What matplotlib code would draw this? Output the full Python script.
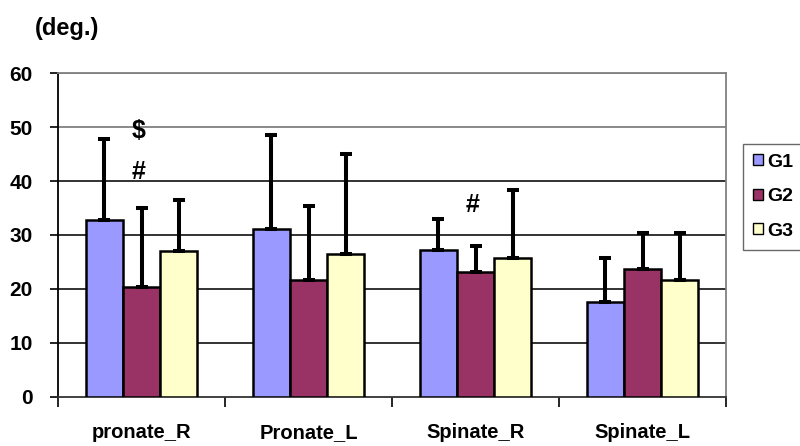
import matplotlib
matplotlib.use("Agg")
import matplotlib.pyplot as plt
import numpy as np

categories = ["pronate_R", "Pronate_L", "Spinate_R", "Spinate_L"]
groups = ["G1", "G2", "G3"]
g1_mean = [32.8, 31.1, 27.2, 17.5]
g1_sd = [15.0, 17.4, 5.8, 8.2]
g2_mean = [20.4, 21.7, 23.1, 23.7]
g2_sd = [14.6, 13.7, 4.8, 6.7]
g3_mean = [27.0, 26.4, 25.7, 21.6]
g3_sd = [9.5, 18.6, 12.6, 8.8]
colors = ["#9999FF", "#993366", "#FFFFCC"]
yticks = [0, 10, 20, 30, 40, 50, 60]
annotations = [("$", -0.02, 49.2), ("#", -0.02, 41.7), ("#", 1.98, 35.5)]

plt.rcParams['font.family'] = ['Liberation Sans', 'DejaVu Sans']
plt.rcParams['font.weight'] = 'bold'

fig = plt.figure(figsize=(8, 4.46), dpi=100)
ax = fig.add_axes([0.0725, 0.1099, 0.835, 0.7264])

x = np.arange(len(categories))
w = 0.222
means = [g1_mean, g2_mean, g3_mean]
sds = [g1_sd, g2_sd, g3_sd]
handles = []
for i in range(3):
    pos = x + (i - 1) * w
    b = ax.bar(pos, means[i], width=w, color=colors[i], edgecolor='black',
               linewidth=1.8, zorder=3, label=groups[i])
    handles.append(b)
    ax.errorbar(pos, means[i], yerr=[np.zeros(4), sds[i]], fmt='none',
                ecolor='black', elinewidth=2.9, capsize=4.2, capthick=2.9, zorder=4)

for t, xi, yv in annotations:
    ax.text(xi, yv, t, ha='center', va='center', fontsize=18, fontweight='bold')

ax.set_xlim(-0.5, 3.5)
ax.set_ylim(0, 60)
ax.set_yticks(yticks)
ax.set_yticklabels([str(v) for v in yticks], fontsize=15, fontweight='bold')
for v in yticks[1:]:
    c = '#808080' if v >= 50 else '#222222'
    ax.axhline(v, color=c, linewidth=1.3, zorder=1)

ax.set_xticks([-0.5, 0.5, 1.5, 2.5, 3.5])
ax.set_xticklabels([])
ax.set_xticks(x, minor=True)
ax.set_xticklabels(categories, minor=True, fontsize=14.5, fontweight='bold')
ax.tick_params(axis='x', which='minor', length=0, pad=19)
ax.tick_params(axis='x', which='major', length=7, width=1.2, direction='out')
ax.tick_params(axis='y', length=6, width=1.2, direction='out', pad=12)

ax.spines['left'].set_color('black')
ax.spines['left'].set_linewidth(1.3)
ax.spines['bottom'].set_color('#333333')
ax.spines['bottom'].set_linewidth(1.3)
ax.spines['top'].set_color('#808080')
ax.spines['top'].set_linewidth(1.3)
ax.spines['right'].set_color('#808080')
ax.spines['right'].set_linewidth(1.3)

fig.text(0.044, 0.935, "(deg.)", fontsize=17, fontweight='bold', ha='left', va='center')

leg = fig.legend(handles=handles, labels=groups, loc='upper left',
                 bbox_to_anchor=(0.929, 0.677), fontsize=14, frameon=True,
                 fancybox=False, edgecolor='#444444', handlelength=0.5,
                 handleheight=0.5, handletextpad=0.25, labelspacing=0.9,
                 borderpad=0.5, borderaxespad=0)
leg.get_frame().set_linewidth(1.0)
for p in leg.get_patches():
    p.set_linewidth(1.0)

fig.savefig("out.png", dpi=100)
